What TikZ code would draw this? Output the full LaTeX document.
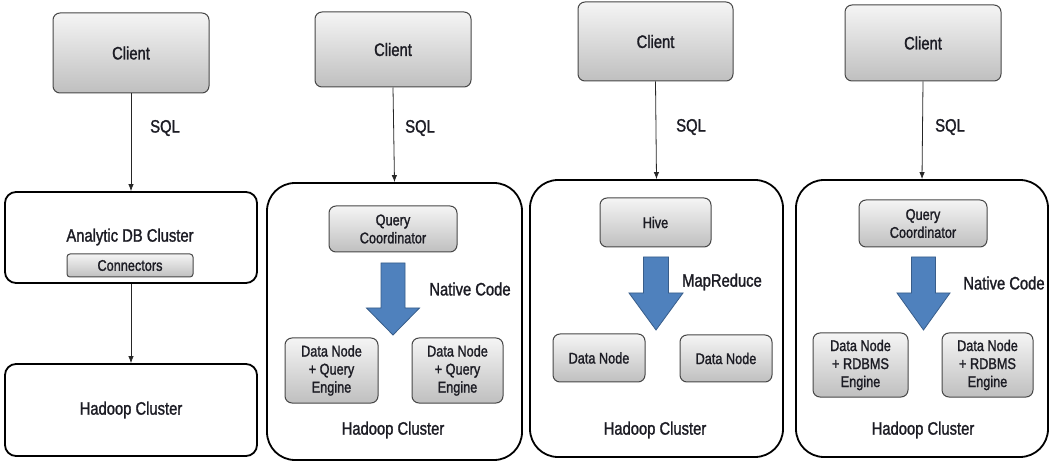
\documentclass[tikz,border=0pt]{standalone}
\usepackage{fontspec}
\setmainfont{Liberation Sans}[FakeStretch=0.82,FakeBold=1.4]
\usetikzlibrary{arrows.meta}
\definecolor{arrblue}{HTML}{4F81BD}
\definecolor{arrborder}{HTML}{385D8A}
\definecolor{txtc}{HTML}{1C1C24}
\newcommand{\blockarr}[6]{%
  \draw[barrow] ({#1-#5},#2) -- ({#1+#5},#2) -- ({#1+#5},#3) -- ({#1+#6},#3) -- (#1,#4) -- ({#1-#6},#3) -- ({#1-#5},#3) -- cycle;}
\begin{document}
\begin{tikzpicture}[x=1pt,y=-1pt,
  big/.style={font=\fontsize{18}{21}\selectfont, text=txtc},
  small/.style={font=\fontsize{15.5}{18}\selectfont, text=txtc},
  gbox/.style={draw=black!72, line width=1pt, rounded corners=7pt, top color=gray!8, bottom color=gray!50, align=center, inner sep=0pt, text=txtc},
  clustera/.style={draw=black, line width=1.8pt, rounded corners=11pt, fill=white, inner sep=0pt, text=txtc, big},
  clusterb/.style={draw=black, line width=1.8pt, rounded corners=28pt, fill=white, inner sep=0pt},
  conn/.style={draw=black!85, line width=0.8pt, -{Latex[length=7pt,width=5.5pt]}},
  barrow/.style={fill=arrblue, draw=arrborder, line width=0.8pt}
]
\useasboundingbox (0,0) rectangle (1050,462);

% ---------- Panel 1 ----------
\node[gbox, big, minimum width=156pt, minimum height=80pt] (c1) at (131,53) {Client};
\node[clustera, minimum width=252pt, minimum height=91pt] (adb) at (131,237.5) {};
\node[big] (adbt) at (130,237) {Analytic DB Cluster};
\node[gbox, small, rounded corners=3pt, minimum width=126pt, minimum height=23pt] (conn1) at (130,265.5) {Connectors};
\node[clustera, minimum width=252pt, minimum height=92pt] (hc1) at (131,410) {Hadoop Cluster};
\draw[conn] (c1.south) -- (adb.north);
\draw[conn] (adb.south) -- (hc1.north);
\node[big] (sql1) at (165,128) {SQL};

% ---------- Panel 2 ----------
\node[gbox, big, minimum width=156pt, minimum height=75pt] (c2) at (393,49.5) {Client};
\node[clusterb, minimum width=255pt, minimum height=277pt] (hc2) at (394.5,321.5) {};
\draw[conn] (c2.south) -- (hc2.north);
\node[big] (sql2) at (420,128) {SQL};
\node[gbox, small, minimum width=128pt, minimum height=46pt] (qc2) at (393,229) {Query\\Coordinator};
\blockarr{393}{263}{308}{335}{12}{26.5}
\node[big] (nc2) at (470,289) {Native Code};
\node[gbox, small, minimum width=93pt, minimum height=65pt] (dn2a) at (331.5,370.5) {Data Node\\+ Query\\Engine};
\node[gbox, small, minimum width=91pt, minimum height=65pt] (dn2b) at (457.5,370.5) {Data Node\\+ Query\\Engine};
\node[big] (hct2) at (393,430) {Hadoop Cluster};

% ---------- Panel 3 ----------
\node[gbox, big, minimum width=155pt, minimum height=79pt] (c3) at (655.5,41.5) {Client};
\node[clusterb, minimum width=253pt, minimum height=277pt] (hc3) at (656.5,318.5) {};
\draw[conn] (c3.south) -- (hc3.north);
\node[big] (sql3) at (691,127) {SQL};
\node[gbox, small, minimum width=111pt, minimum height=49pt] (hive) at (655.5,222.5) {Hive};
\blockarr{656}{257}{293}{330}{12.5}{27}
\node[big] (mr) at (722,282) {MapReduce};
\node[gbox, small, minimum width=92pt, minimum height=48pt] (dn3a) at (599,358) {Data Node};
\node[gbox, small, minimum width=92pt, minimum height=47pt] (dn3b) at (726,358.5) {Data Node};
\node[big] (hct3) at (655,430) {Hadoop Cluster};

% ---------- Panel 4 ----------
\node[gbox, big, minimum width=156pt, minimum height=76pt] (c4) at (923,43) {Client};
\node[clusterb, minimum width=252pt, minimum height=277pt] (hc4) at (922,318.5) {};
\draw[conn] (c4.south) -- (hc4.north);
\node[big] (sql4) at (950,127) {SQL};
\node[gbox, small, minimum width=128pt, minimum height=47pt] (qc4) at (923,223.5) {Query\\Coordinator};
\blockarr{923.5}{257}{293}{330}{12}{26.5}
\node[big] (nc4) at (1004,283) {Native Code};
\node[gbox, small, minimum width=95pt, minimum height=64pt] (dn4a) at (860.5,365) {Data Node\\+ RDBMS\\Engine};
\node[gbox, small, minimum width=91pt, minimum height=64pt] (dn4b) at (987.5,365) {Data Node\\+ RDBMS\\Engine};
\node[big] (hct4) at (923,430) {Hadoop Cluster};
\end{tikzpicture}
\end{document}
